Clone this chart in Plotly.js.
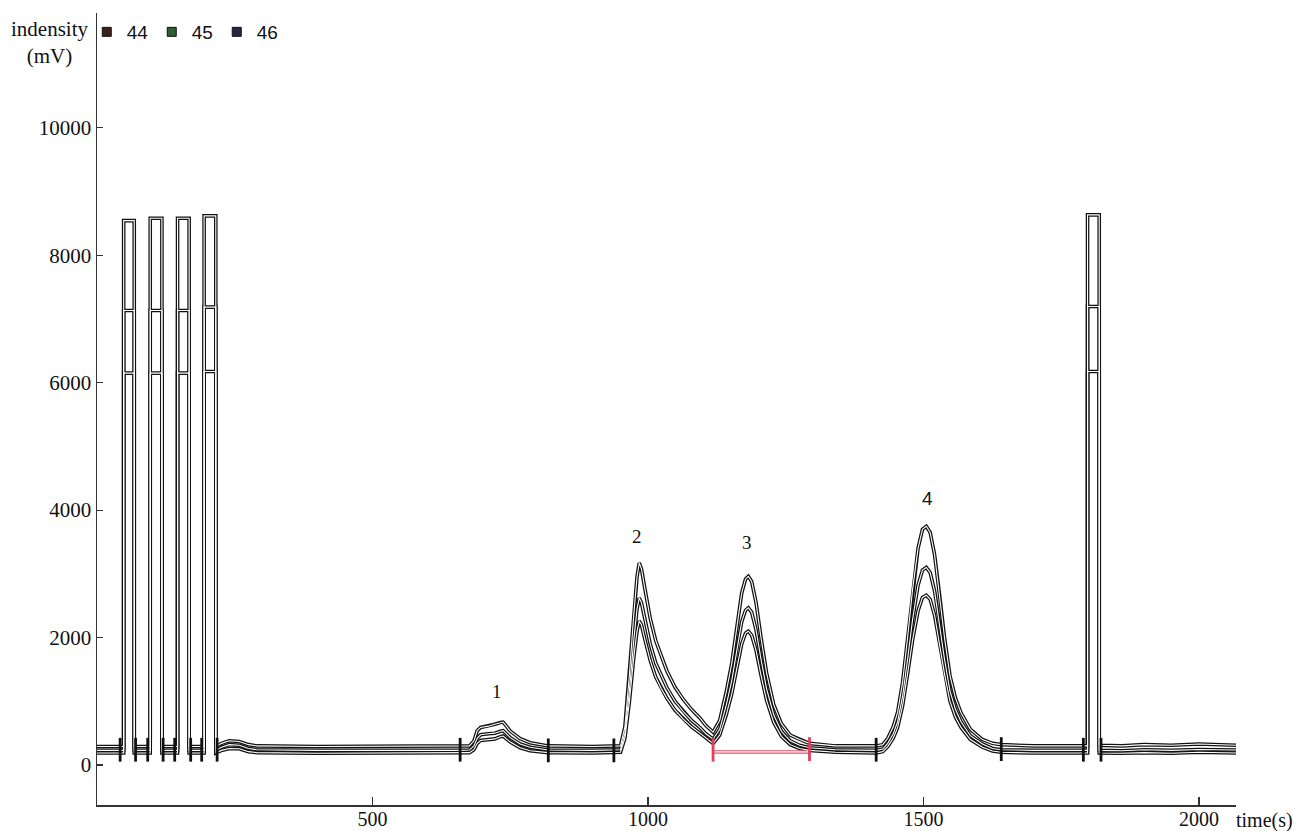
<!DOCTYPE html>
<html>
<head>
<meta charset="utf-8">
<script src="https://cdn.plot.ly/plotly-3.0.1.min.js"></script>
<style>html,body{margin:0;padding:0;background:#fff;}#chart{width:1295px;height:831px;}</style>
</head>
<body>
<div id="chart"></div>
<script>
// shared time axis (s)
const time = [
  0, 30, 48.4, 48.4, 67.6, 67.6, 96.6, 96.6, 117.8, 117.8, 146.2, 146.2, 167.2, 167.2, 194.4, 194.4, 215.6, 215.6,
  226, 240, 258, 275, 290, 400, 550, 659,
  676, 684, 690, 696, 710, 722, 732, 737, 750, 768, 786, 804, 819,
  900, 938, 950, 958, 966, 974, 980, 984, 988, 994, 1004, 1014, 1024, 1034, 1049, 1064, 1079, 1094, 1105, 1118,
  1130, 1142, 1152, 1162, 1170, 1177, 1182, 1188, 1196, 1205, 1215, 1228, 1242, 1258, 1275, 1293, 1340,
  1414, 1426, 1435, 1445, 1453, 1462, 1471, 1480, 1490, 1498, 1505, 1512, 1520, 1530, 1538, 1548, 1558, 1568, 1585, 1607, 1625, 1641,
  1700, 1797.6, 1797.6, 1818.8, 1818.8, 1860, 1900, 1950, 2000, 2067
];
// intensity (mV) of mass 44
const s44 = [
  290, 290, 290, 8542, 8542, 290, 290, 8580, 8580, 290, 290, 8580, 8580, 290, 290, 8616, 8616, 290,
  340, 380, 370, 320, 300, 290, 290, 290,
  300, 380, 540, 590, 610, 640, 668, 674, 533, 414, 351, 320, 300,
  290, 290, 300, 600, 1400, 2350, 2950, 3170, 3080, 2780, 2300, 1950, 1700, 1480, 1220, 1030, 870, 740, 620, 515,
  700, 1150, 1600, 2250, 2700, 2920, 2960, 2880, 2550, 2000, 1450, 950, 650, 470, 400, 340, 300,
  300, 320, 420, 600, 830, 1300, 2000, 2750, 3400, 3700, 3746, 3650, 3300, 2600, 2000, 1400, 1050, 820, 560, 400, 340, 320,
  300, 300, 8632, 8632, 310, 300, 320, 310, 330, 310
];
// intensity (mV) of mass 45
const s45 = [
  230, 230, 230, 7132, 7132, 230, 230, 7132, 7132, 230, 230, 7132, 7132, 230, 230, 7185, 7185, 230,
  280, 320, 310, 260, 240, 230, 225, 230,
  235, 300, 420, 475, 490, 500, 530, 540, 430, 330, 280, 250, 235,
  230, 230, 240, 500, 1150, 1950, 2450, 2620, 2550, 2300, 1900, 1600, 1400, 1220, 1000, 840, 700, 590, 490, 405,
  560, 940, 1330, 1870, 2250, 2430, 2467, 2400, 2120, 1660, 1200, 790, 530, 380, 310, 270, 240,
  230, 250, 340, 490, 680, 1080, 1660, 2280, 2820, 3060, 3100, 3020, 2730, 2150, 1660, 1160, 870, 680, 460, 330, 260, 240,
  230, 230, 7194, 7194, 230, 225, 240, 230, 245, 235
];
// intensity (mV) of mass 46
const s46 = [
  190, 190, 190, 6150, 6150, 190, 190, 6150, 6150, 190, 190, 6150, 6150, 190, 190, 6176, 6176, 190,
  230, 260, 255, 210, 195, 185, 185, 190,
  195, 240, 340, 385, 400, 410, 445, 455, 360, 270, 225, 205, 195,
  190, 190, 200, 420, 980, 1680, 2100, 2260, 2200, 1980, 1640, 1380, 1200, 1050, 860, 720, 600, 500, 420, 340,
  470, 790, 1120, 1580, 1900, 2070, 2100, 2040, 1800, 1410, 1020, 670, 450, 320, 260, 230, 200,
  190, 210, 290, 420, 590, 930, 1430, 1960, 2420, 2630, 2665, 2600, 2350, 1850, 1430, 1000, 750, 590, 400, 280, 220, 200,
  190, 190, 6176, 6176, 190, 185, 195, 185, 200, 190
];
// integration marks (peak start / end)
const markTimes = [42, 70, 92, 120, 141, 170, 190, 218, 659, 819, 938, 1118, 1293, 1414, 1641, 1790, 1822];
const markLevels = [240, 240, 240, 240, 240, 240, 240, 240, 240, 230, 230, 240, 250, 240, 250, 240, 240];
const markColors = ['#111','#111','#111','#111','#111','#111','#111','#111','#111','#111','#111','#e0405a','#e0405a','#111','#111','#111','#111'];
// integration baseline under peak 3
const redTimes = [1118, 1293];
const redLevels = [205, 205];
// peak labels
const peakNames = ['1', '2', '3', '4'];
const peakX = [726, 980, 1179, 1507];
const peakY = [1155, 3585, 3490, 4180];
// legend
const seriesNames = ['44', '45', '46'];
const seriesColors = ['#3d1f1f', '#2f5e34', '#2b2444'];
const xTicks = [500, 1000, 1500, 2000];
const yTicks = [0, 2000, 4000, 6000, 8000, 10000];

const series = [s44, s45, s46];
const traces = [];
// dark outline pass
series.forEach((v, i) => {
  traces.push({x: time, y: v, type: 'scatter', mode: 'lines', showlegend: false, hoverinfo: 'skip',
    line: {color: '#111111', width: 3.6}});
});
// red integration outline
traces.push({x: redTimes, y: redLevels, type: 'scatter', mode: 'lines', showlegend: false,
  line: {color: '#e8506a', width: 3.6}});
// white core pass
series.forEach((v, i) => {
  traces.push({x: time, y: v, type: 'scatter', mode: 'lines', showlegend: false, hoverinfo: 'skip',
    line: {color: '#ffffff', width: 1.1}});
});
traces.push({x: redTimes, y: redLevels, type: 'scatter', mode: 'lines', showlegend: false,
  line: {color: '#ffffff', width: 1.2}});
// integration tick marks
traces.push({x: markTimes, y: markLevels, type: 'scatter', mode: 'markers', showlegend: false,
  marker: {symbol: 'line-ns', size: 17, line: {color: markColors, width: 2.8}}});
// legend entries
seriesNames.forEach((n, i) => {
  traces.push({x: [null], y: [null], type: 'scatter', mode: 'markers', name: n, showlegend: true,
    marker: {symbol: 'square', size: 9, color: seriesColors[i], line: {color: '#111', width: 1}}});
});

const serif = 'Liberation Serif, Times New Roman, serif';
const sans = 'Liberation Sans, Arial, sans-serif';
const annotations = peakNames.map((t, i) => ({
  x: peakX[i], y: peakY[i], xref: 'x', yref: 'y', text: t, showarrow: false,
  font: {family: i === 3 ? sans : serif, size: 19, color: '#111'}
}));
annotations.push({xref: 'paper', yref: 'paper', x: -0.042, y: 0.963, text: 'indensity<br>(mV)',
  showarrow: false, xanchor: 'center', yanchor: 'middle', align: 'center',
  font: {family: serif, size: 21, color: '#111'}});
annotations.push({xref: 'paper', yref: 'paper', x: 0.998, y: -0.019, xanchor: 'left', yanchor: 'middle',
  text: 'time(s)', showarrow: false, font: {family: serif, size: 20, color: '#111'}});

const layout = {
  width: 1295, height: 831,
  margin: {l: 97, r: 59, t: 13, b: 26, autoexpand: false},
  paper_bgcolor: '#fff', plot_bgcolor: '#fff',
  showlegend: true,
  legend: {orientation: 'h', x: -0.009, y: 1.0, xanchor: 'left', yanchor: 'top',
    font: {family: sans, size: 19, color: '#111'},
    itemwidth: 30, entrywidth: 20, entrywidthmode: 'pixels', bgcolor: 'rgba(0,0,0,0)'},
  xaxis: {range: [0, 2067], showline: true, linecolor: '#333', linewidth: 1.5, mirror: false,
    showgrid: false, zeroline: false, ticks: 'inside', ticklen: 8, tickwidth: 1.2, tickcolor: '#333',
    tickvals: xTicks, ticktext: xTicks.map(String), ticklabelstandoff: -5,
    tickfont: {family: serif, size: 20, color: '#111'}},
  yaxis: {range: [-627, 11800], showline: true, linecolor: '#333', linewidth: 1.5,
    showgrid: false, zeroline: false, ticks: 'inside', ticklen: 6, tickwidth: 1.2, tickcolor: '#333',
    tickvals: yTicks, ticktext: yTicks.map(String),
    tickfont: {family: serif, size: 21, color: '#111'}},
  annotations: annotations
};
Plotly.newPlot('chart', traces, layout, {displayModeBar: false, staticPlot: true});
</script>
</body>
</html>
